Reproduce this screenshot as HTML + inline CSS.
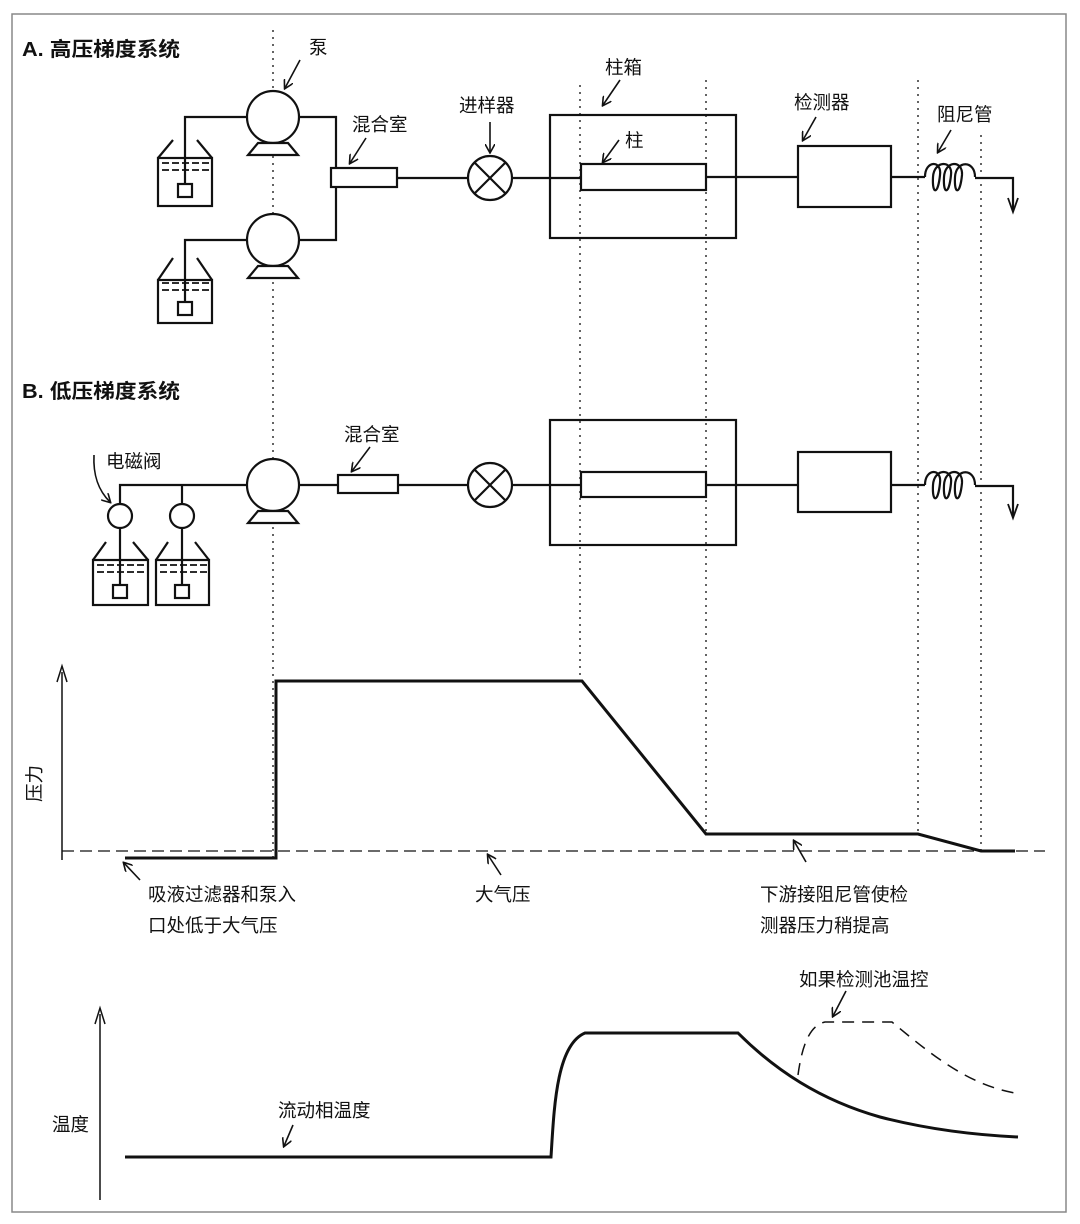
<!DOCTYPE html>
<html><head><meta charset="utf-8"><style>
html,body{margin:0;padding:0;background:#fff;}
svg{display:block;}
text{font-family:"Liberation Sans","Noto Sans CJK SC",sans-serif;fill:#111;}
</style></head><body>
<svg width="1080" height="1224" viewBox="0 0 1080 1224" xmlns="http://www.w3.org/2000/svg">
<defs>
<marker id="ah" markerWidth="10" markerHeight="10" refX="8" refY="5" orient="auto" markerUnits="userSpaceOnUse">
<path d="M0,0 L9,5 L0,10" fill="none" stroke="#111" stroke-width="1.6"/>
</marker>
</defs>
<rect x="12" y="14" width="1054" height="1198" fill="none" stroke="#888" stroke-width="1.5"/>
<text x="22" y="56" font-size="20" font-weight="bold" textLength="158" lengthAdjust="spacingAndGlyphs">A. 高压梯度系统</text>
<text x="22" y="398" font-size="20" font-weight="bold" textLength="158" lengthAdjust="spacingAndGlyphs">B. 低压梯度系统</text>

<g stroke="#222" stroke-width="1.4" stroke-dasharray="2,5">
<line x1="273" y1="30" x2="273" y2="862"/>
<line x1="580" y1="85" x2="580" y2="680"/>
<line x1="706" y1="80" x2="706" y2="834"/>
<line x1="918" y1="80" x2="918" y2="834"/>
<line x1="981" y1="135" x2="981" y2="850"/>
</g>

<g fill="none" stroke="#111" stroke-width="2.2">
<circle cx="273" cy="117" r="26" fill="#fff"/>
<path d="M258,143 L288,143 L298,155 L248,155 Z" fill="#fff"/>
<circle cx="273" cy="240" r="26" fill="#fff"/>
<path d="M258,266 L288,266 L298,278 L248,278 Z" fill="#fff"/>
<path d="M247,117 H185 V184"/>
<path d="M247,240 H185 V302"/>
<rect x="178" y="184" width="14" height="13"/>
<rect x="178" y="302" width="14" height="13"/>
<rect x="158" y="158" width="54" height="48"/>
<rect x="158" y="280" width="54" height="43"/>
<path d="M158,158 L173,140 M212,158 L197,140"/>
<path d="M158,280 L173,258 M212,280 L197,258"/>
<g stroke-width="1.8" stroke-dasharray="7,3">
<line x1="162" y1="163" x2="210" y2="163"/><line x1="162" y1="170" x2="210" y2="170"/>
<line x1="162" y1="283" x2="210" y2="283"/><line x1="162" y1="290" x2="210" y2="290"/>
</g>
<path d="M299,117 H336 V240 H299"/>
<rect x="331" y="168" width="66" height="19" fill="#fff"/>
<line x1="397" y1="178" x2="468" y2="178"/>
<circle cx="490" cy="178" r="22"/>
<path d="M474,162 L506,194 M506,162 L474,194"/>
<line x1="512" y1="178" x2="581" y2="178"/>
<rect x="550" y="115" width="186" height="123"/>
<rect x="581" y="164" width="125" height="26" fill="#fff"/>
<line x1="706" y1="177" x2="798" y2="177"/>
<rect x="798" y="146" width="93" height="61"/>
<line x1="891" y1="177" x2="925" y2="177"/>
<path d="M925,177 C925,160 942,160 940,175 C938,195 932,195 933,177 C934,160 953,160 951,175 C949,195 943,195 944,177 C945,160 963,160 962,175 C960,195 954,195 955,177 C956,160 975,160 975,177"/>
<path d="M975,178 H1013 V210"/>
<path d="M1008,198 L1013,212 L1018,198" stroke-width="1.8"/>

<circle cx="273" cy="485" r="26" fill="#fff"/>
<path d="M258,511 L288,511 L298,523 L248,523 Z" fill="#fff"/>
<path d="M120,504 V485 H247"/>
<line x1="182" y1="485" x2="182" y2="504"/>
<circle cx="120" cy="516" r="12"/>
<circle cx="182" cy="516" r="12"/>
<line x1="120" y1="528" x2="120" y2="585"/>
<line x1="182" y1="528" x2="182" y2="585"/>
<rect x="113" y="585" width="14" height="13"/>
<rect x="175" y="585" width="14" height="13"/>
<rect x="93" y="560" width="55" height="45"/>
<rect x="156" y="560" width="53" height="45"/>
<path d="M93,560 L106,542 M148,560 L133,542 M156,560 L168,542 M209,560 L195,542"/>
<g stroke-width="1.8" stroke-dasharray="7,3">
<line x1="97" y1="565" x2="146" y2="565"/><line x1="97" y1="572" x2="146" y2="572"/>
<line x1="160" y1="565" x2="207" y2="565"/><line x1="160" y1="572" x2="207" y2="572"/>
</g>
<line x1="299" y1="485" x2="338" y2="485"/>
<rect x="338" y="475" width="60" height="18" fill="#fff"/>
<line x1="398" y1="485" x2="468" y2="485"/>
<circle cx="490" cy="485" r="22"/>
<path d="M474,469 L506,501 M506,469 L474,501"/>
<line x1="512" y1="485" x2="581" y2="485"/>
<rect x="550" y="420" width="186" height="125"/>
<rect x="581" y="472" width="125" height="25" fill="#fff"/>
<line x1="706" y1="485" x2="798" y2="485"/>
<rect x="798" y="452" width="93" height="60"/>
<line x1="891" y1="485" x2="925" y2="485"/>
<path d="M925,485 C925,468 942,468 940,483 C938,503 932,503 933,485 C934,468 953,468 951,483 C949,503 943,503 944,485 C945,468 963,468 962,483 C960,503 954,503 955,485 C956,468 975,468 975,485"/>
<path d="M975,486 H1013 V516"/>
<path d="M1008,504 L1013,518 L1018,504" stroke-width="1.8"/>
</g>

<g stroke="#111" stroke-width="1.6" fill="none" marker-end="url(#ah)">
<line x1="300" y1="60" x2="285" y2="88"/>
<line x1="366" y1="138" x2="350" y2="163"/>
<line x1="490" y1="122" x2="490" y2="152"/>
<line x1="620" y1="80" x2="603" y2="105"/>
<line x1="619" y1="140" x2="603" y2="162"/>
<line x1="816" y1="117" x2="803" y2="140"/>
<line x1="951" y1="130" x2="938" y2="152"/>
<line x1="370" y1="447" x2="352" y2="471"/>
<path d="M94,455 C93,475 98,490 110,502"/>
<line x1="140" y1="880" x2="124" y2="863"/>
<line x1="501" y1="875" x2="488" y2="855"/>
<line x1="806" y1="862" x2="794" y2="841"/>
<line x1="846" y1="991" x2="833" y2="1016"/>
<line x1="293" y1="1125" x2="284" y2="1146"/>
</g>

<g font-size="18.5">
<text x="309" y="54">泵</text>
<text x="352" y="131">混合室</text>
<text x="459" y="112">进样器</text>
<text x="605" y="74">柱箱</text>
<text x="625" y="147">柱</text>
<text x="794" y="109">检测器</text>
<text x="937" y="121">阻尼管</text>
<text x="106" y="468">电磁阀</text>
<text x="344" y="441">混合室</text>
<text x="148" y="901">吸液过滤器和泵入</text>
<text x="148" y="932">口处低于大气压</text>
<text x="475" y="901">大气压</text>
<text x="760" y="901">下游接阻尼管使检</text>
<text x="760" y="932">测器压力稍提高</text>
<text x="799" y="986">如果检测池温控</text>
<text x="278" y="1117">流动相温度</text>
<text x="52" y="1131">温度</text>
<text transform="translate(41,802) rotate(-90)">压力</text>
</g>

<g stroke="#111" fill="none">
<line x1="62" y1="860" x2="62" y2="672" stroke-width="1.5"/>
<path d="M57,682 L62,666 L67,682" stroke-width="1.5"/>
<line x1="62" y1="851" x2="1045" y2="851" stroke-width="1.3" stroke-dasharray="12,6"/>
<path d="M125,858 H276 V681 H582 L706,834 H918 L981,851 H1015" stroke-width="3"/>
</g>

<g stroke="#111" fill="none">
<line x1="100" y1="1200" x2="100" y2="1014" stroke-width="1.5"/>
<path d="M95,1024 L100,1008 L105,1024" stroke-width="1.5"/>
<path d="M125,1157 H551 C554,1110 556,1045 585,1033 H738 C775,1070 820,1100 880,1117 C930,1130 975,1135 1018,1137" stroke-width="3"/>
<path d="M798,1075 C802,1045 810,1025 825,1022 H892 C935,1058 970,1085 1015,1093" stroke-width="1.5" stroke-dasharray="12,8"/>
</g>
</svg>
</body></html>
